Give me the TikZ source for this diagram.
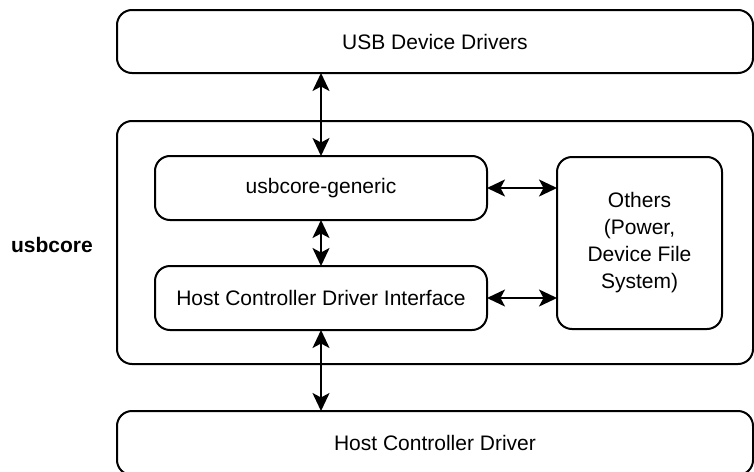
\documentclass[tikz,border=0pt]{standalone}
\usepackage{fontspec}
\setsansfont{Liberation Sans}
\usepackage{tikz}
\usetikzlibrary{arrows.meta}

\tikzset{
  blk/.style={draw, line width=2pt, rounded corners=15pt, inner sep=0pt, outer sep=0pt,
              align=center, font=\sffamily\fontsize{21}{27}\selectfont},
  link/.style={line width=2pt, {Stealth[length=18pt,width=17pt,inset=4.5pt]}-{Stealth[length=18pt,width=17pt,inset=4.5pt]}}
}

\begin{document}
\begin{tikzpicture}[x=1pt, y=-1pt]
  \useasboundingbox (0,0) rectangle (754,471);
  % outer layers
  \node[blk, minimum width=636pt, minimum height=63pt] (drivers) at (435,41.5) {USB Device Drivers};
  \node[blk, minimum width=636pt, minimum height=243pt] (core) at (435,242.5) {};
  \node[blk, minimum width=636pt, minimum height=64pt] (hcd) at (435,443) {Host Controller Driver};
  \node[font=\sffamily\bfseries\fontsize{21}{24}\selectfont] (corelbl) at (52,245) {usbcore};
  % inside usbcore
  \node[blk, minimum width=332pt, minimum height=64pt] (generic) at (321,188) {usbcore-generic};
  \node[blk, minimum width=332pt, minimum height=64pt] (hcdi) at (321,298) {Host Controller Driver Interface};
  \node[blk, minimum width=165pt, minimum height=172pt] (others) at (639.5,243)
    {Others\\(Power,\\Device File\\System)};
  % connectors
  \draw[link] (generic.north) -- (generic.north |- drivers.south);
  \draw[link] (generic.south) -- (hcdi.north);
  \draw[link] (hcdi.south) -- (hcdi.south |- hcd.north);
  \foreach \b in {generic, hcdi}
    \draw[link] (\b.east) -- (\b.east -| others.west);
\end{tikzpicture}
\end{document}
